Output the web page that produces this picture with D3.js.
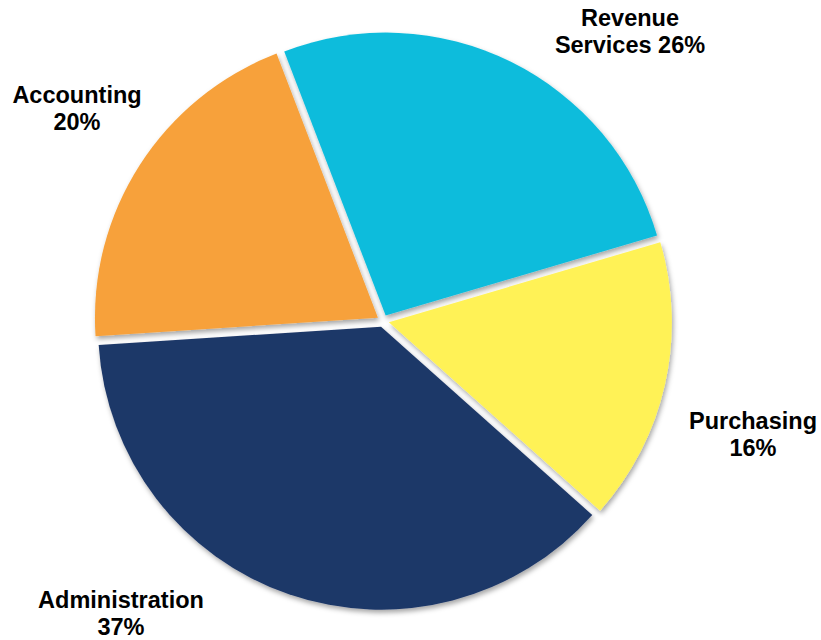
<!DOCTYPE html>
<html>
<head>
<meta charset="utf-8">
<script src="https://cdn.jsdelivr.net/npm/d3@7/dist/d3.min.js"></script>
<style>
  html, body { margin: 0; padding: 0; background: #ffffff; }
  svg { display: block; }
</style>
</head>
<body>
<svg id="chart" width="821" height="640"></svg>
<script>
// Department share of the budget, clockwise from the upper left
const departments = ["Revenue Services", "Purchasing", "Administration", "Accounting"];
const shares = [26, 16, 37, 20];
const labelLines = [
  ["Revenue", "Services 26%"],
  ["Purchasing", "16%"],
  ["Administration", "37%"],
  ["Accounting", "20%"]
];

// Layout
const width = 821, height = 640;
const cx = 383, cy = 321, radius = 283, explode = 6;
const colors = ["#10BCDC", "#FFF257", "#1F3868", "#F7A13A"];
// label anchor (centre of the first line's baseline), relative to the pie centre
const labelAnchor = [
  [247, -295],
  [370, 108],
  [-262, 287],
  [-306, -218]
];
const lineGap = 27;

const svg = d3.select("#chart");

const defs = svg.append("defs");
const shadow = defs.append("filter")
  .attr("id", "sliceShadow")
  .attr("x", "-10%").attr("y", "-10%")
  .attr("width", "120%").attr("height", "120%");
shadow.append("feDropShadow")
  .attr("dx", 1.5).attr("dy", 3)
  .attr("stdDeviation", 2.5)
  .attr("flood-color", "#000")
  .attr("flood-opacity", 0.35);

const pie = d3.pie()
  .sort(null)
  .value(d => d)
  .startAngle(-21 * Math.PI / 180)
  .endAngle((360 - 21) * Math.PI / 180);

const arcs = pie(shares);
const arc = d3.arc().innerRadius(0).outerRadius(radius);

const g = svg.append("g").attr("transform", `translate(${cx},${cy})`);

g.selectAll("path.slice")
  .data(arcs)
  .join("path")
  .attr("class", "slice")
  .attr("d", arc)
  .attr("fill", (d, i) => colors[i])
  .attr("filter", "url(#sliceShadow)")
  .attr("transform", d => {
    const mid = (d.startAngle + d.endAngle) / 2;
    return `translate(${explode * Math.sin(mid)},${-explode * Math.cos(mid)})`;
  });

const labels = g.selectAll("text.label")
  .data(arcs)
  .join("text")
  .attr("class", "label")
  .attr("text-anchor", "middle")
  .attr("font-family", "Liberation Sans, Arial, sans-serif")
  .attr("font-weight", "bold")
  .attr("font-size", 23.5)
  .attr("fill", "#000")
  .attr("transform", (d, i) => `translate(${labelAnchor[i][0]},${labelAnchor[i][1]})`);

labels.selectAll("tspan")
  .data((d, i) => labelLines[i])
  .join("tspan")
  .attr("x", 0)
  .attr("y", (t, j) => j * lineGap)
  .text(t => t);
</script>
</body>
</html>
